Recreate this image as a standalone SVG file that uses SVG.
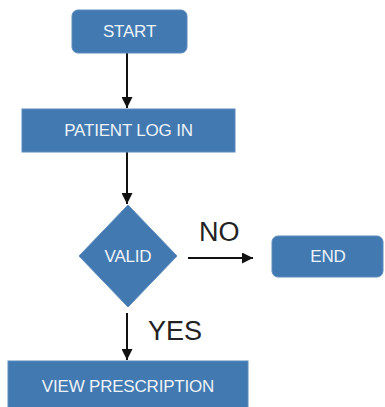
<svg xmlns="http://www.w3.org/2000/svg" width="385" height="407" viewBox="0 0 385 407">
<style>
.box{fill:#4279b0;stroke:#5a8cbd;stroke-width:1}
.lbl{font-family:"Liberation Sans",Arial,sans-serif;font-size:17px;fill:#eef3f8;text-anchor:middle;letter-spacing:-0.2px}
.big{font-family:"Liberation Sans",Arial,sans-serif;font-size:27px;fill:#222}
.edge{stroke:#111;stroke-width:2;fill:none;marker-end:url(#ah)}
</style>
<defs>
<marker id="ah" viewBox="0 0 10 10" refX="10" refY="5" markerWidth="5.5" markerHeight="5.5" orient="auto" markerUnits="strokeWidth">
<path d="M0,0 L10,5 L0,10 z" fill="#111"/>
</marker>
</defs>
<rect width="385" height="407" fill="#fff"/>
<g id="connectors">
<line class="edge" x1="127" y1="53" x2="127" y2="108"/>
<line class="edge" x1="127" y1="152" x2="127" y2="204"/>
<line class="edge" x1="188" y1="258" x2="253" y2="258"/>
<line class="edge" x1="127" y1="313" x2="127" y2="360"/>
<text class="big" x="199" y="241">NO</text>
<text class="big" x="148" y="340">YES</text>
</g>
<g id="start">
<rect class="box" x="72" y="10" width="115" height="43" rx="6"/>
<text class="lbl" x="129.5" y="37">START</text>
</g>
<g id="login">
<rect class="box" x="22" y="109" width="213" height="43"/>
<text class="lbl" x="128.5" y="136">PATIENT LOG IN</text>
</g>
<g id="valid">
<polygon class="box" points="128,205 177,256 128,307 79,256"/>
<text class="lbl" x="128" y="262">VALID</text>
</g>
<g id="end">
<rect class="box" x="272" y="236" width="111" height="41" rx="6"/>
<text class="lbl" x="328" y="262">END</text>
</g>
<g id="view">
<rect class="box" x="8" y="361" width="240" height="50"/>
<text class="lbl" x="128" y="392">VIEW PRESCRIPTION</text>
</g>
</svg>
